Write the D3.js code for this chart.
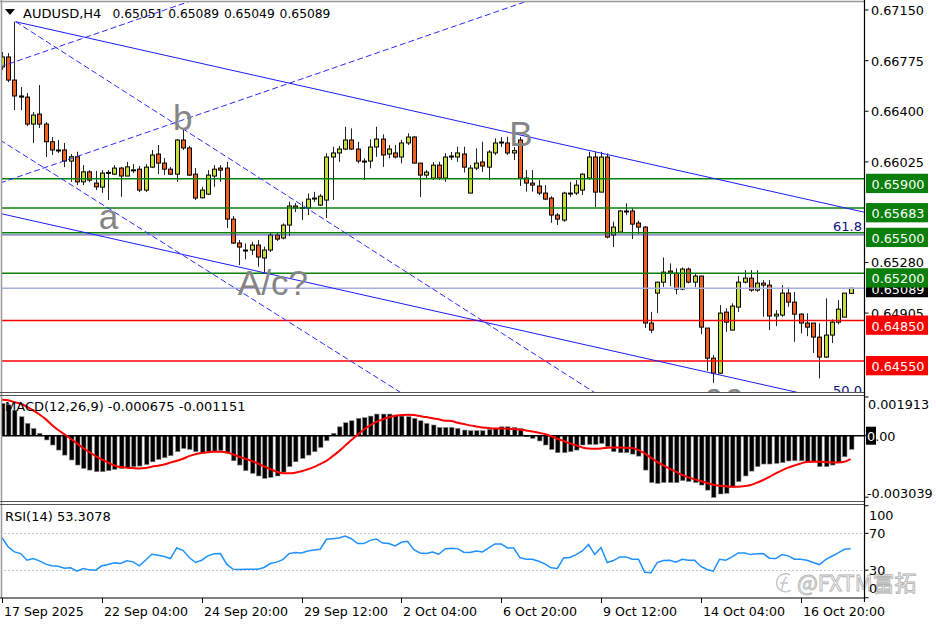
<!DOCTYPE html>
<html><head><meta charset="utf-8">
<script src="https://cdn.jsdelivr.net/npm/d3@7"></script>
<style>body{margin:0;background:#fff;} svg{display:block;}</style>
</head><body>
<svg id="c" width="936" height="624"></svg>
<script>
// ---------- DATA ----------
const symbolTitle = "AUDUSD,H4";
const titleValues = ["0.65051", "0.65089", "0.65049", "0.65089"];
const open = [0.66728,0.66802,0.66631,0.66513,0.66505,0.66305,0.66379,0.66305,0.66174,0.66113,
0.66113,0.66031,0.66063,0.65877,0.65951,0.65868,0.65838,0.65944,0.65934,0.65979,
0.65920,0.65964,0.65971,0.65816,0.65986,0.66083,0.66016,0.65971,0.65934,0.66187,
0.66128,0.65934,0.65759,0.65786,0.65920,0.65979,0.65979,0.65601,0.65424,0.65372,
0.65372,0.65409,0.65313,0.65372,0.65483,0.65461,0.65557,0.65698,0.65683,0.65683,
0.65757,0.65705,0.65742,0.66061,0.66091,0.66120,0.66187,0.66120,0.66031,0.66031,
0.66135,0.66194,0.66083,0.66091,0.66061,0.66165,0.66209,0.66016,0.65927,0.65905,
0.66001,0.65905,0.66061,0.66061,0.66083,0.65794,0.65979,0.66024,0.65986,0.66091,
0.66165,0.66165,0.66091,0.66187,0.65905,0.65868,0.65846,0.65794,0.65757,0.65631,
0.65594,0.65794,0.65794,0.65816,0.65905,0.66061,0.65801,0.66061,0.65483,0.65505,
0.65661,0.65661,0.65572,0.65542,0.64831,0.65053,0.65134,0.65216,0.65201,0.65083,
0.65231,0.65134,0.65179,0.64794,0.64571,0.64460,0.64912,0.64779,0.64949,0.65134,
0.65164,0.65075,0.65127,0.65112,0.64883,0.64890,0.65053,0.64986,0.64897,0.64831,
0.64831,0.64727,0.64579,0.64742,0.64838,0.64875,0.65051];
const high = [0.66839,0.66831,0.67063,0.66579,0.66535,0.66394,0.66594,0.66320,0.66209,0.66187,
0.66165,0.66083,0.66100,0.66001,0.65964,0.65959,0.65964,0.65964,0.66001,0.65988,
0.66025,0.66008,0.65994,0.66008,0.66113,0.66150,0.66053,0.65988,0.66194,0.66268,
0.66143,0.65979,0.65840,0.65964,0.66001,0.66001,0.66025,0.65623,0.65446,0.65421,
0.65433,0.65446,0.65397,0.65505,0.65505,0.65569,0.65730,0.65720,0.65730,0.65791,
0.65803,0.65786,0.66089,0.66137,0.66143,0.66285,0.66273,0.66174,0.66051,0.66192,
0.66285,0.66229,0.66150,0.66150,0.66187,0.66237,0.66216,0.66016,0.65964,0.66024,
0.66026,0.66089,0.66098,0.66137,0.66137,0.66001,0.66125,0.66174,0.66113,0.66199,
0.66209,0.66211,0.66135,0.66209,0.65964,0.65964,0.65890,0.65853,0.65771,0.65646,
0.65804,0.65877,0.65890,0.65940,0.66100,0.66100,0.66100,0.66088,0.65582,0.65668,
0.65718,0.65681,0.65589,0.65549,0.64914,0.65137,0.65317,0.65273,0.65236,0.65243,
0.65243,0.65199,0.65179,0.64794,0.64594,0.64964,0.64940,0.64977,0.65179,0.65223,
0.65223,0.65223,0.65149,0.65149,0.64927,0.65112,0.65095,0.65062,0.64903,0.64903,
0.64831,0.64829,0.65014,0.64858,0.65001,0.65053,0.65089];
const low = [0.66705,0.66616,0.66409,0.66409,0.66290,0.66165,0.66276,0.66061,0.66076,0.66091,
0.65986,0.65877,0.65853,0.65853,0.65875,0.65816,0.65796,0.65742,0.65927,0.65766,
0.65920,0.65942,0.65801,0.65801,0.65979,0.65934,0.65927,0.65927,0.65877,0.66113,
0.65920,0.65742,0.65755,0.65779,0.65840,0.65877,0.65535,0.65416,0.65261,0.65303,
0.65335,0.65248,0.65204,0.65357,0.65438,0.65451,0.65475,0.65653,0.65594,0.65631,
0.65729,0.65698,0.65609,0.65742,0.66025,0.66113,0.66113,0.66014,0.65890,0.65977,
0.66063,0.65988,0.66051,0.66051,0.66014,0.66150,0.66014,0.65764,0.65903,0.65890,
0.65890,0.65877,0.66038,0.66025,0.65946,0.65792,0.65964,0.65951,0.65890,0.66076,
0.66135,0.66076,0.66038,0.65846,0.65804,0.65804,0.65779,0.65742,0.65574,0.65557,
0.65581,0.65766,0.65779,0.65779,0.65890,0.65690,0.65801,0.65458,0.65394,0.65505,
0.65631,0.65453,0.65490,0.64794,0.64757,0.64905,0.65099,0.65105,0.65044,0.65075,
0.65125,0.65097,0.64749,0.64477,0.64388,0.64458,0.64766,0.64779,0.64914,0.65125,
0.65062,0.65062,0.64877,0.64779,0.64808,0.64877,0.64951,0.64692,0.64754,0.64734,
0.64610,0.64421,0.64572,0.64683,0.64821,0.64875,0.65049];
const close = [0.66802,0.66631,0.66513,0.66505,0.66305,0.66372,0.66305,0.66174,0.66113,0.66109,
0.66031,0.66063,0.65877,0.65951,0.65890,0.65840,0.65942,0.65947,0.65979,0.65920,
0.65988,0.65966,0.65816,0.65986,0.66076,0.66016,0.65971,0.65934,0.66187,0.66128,
0.65927,0.65757,0.65816,0.65927,0.65971,0.65964,0.65601,0.65424,0.65394,0.65370,
0.65409,0.65320,0.65372,0.65483,0.65453,0.65557,0.65698,0.65683,0.65687,0.65749,
0.65755,0.65771,0.66061,0.66091,0.66120,0.66187,0.66120,0.66031,0.66029,0.66135,
0.66194,0.66076,0.66120,0.66061,0.66165,0.66209,0.66016,0.65927,0.65949,0.66001,
0.65905,0.66061,0.66068,0.66091,0.65986,0.65979,0.66016,0.65994,0.66098,0.66165,
0.66172,0.66091,0.66108,0.65905,0.65868,0.65853,0.65794,0.65749,0.65631,0.65601,
0.65794,0.65792,0.65853,0.65934,0.66061,0.65801,0.66061,0.65468,0.65542,0.65661,
0.65659,0.65564,0.65542,0.64831,0.64779,0.65134,0.65208,0.65201,0.65083,0.65231,
0.65134,0.65179,0.64801,0.64571,0.64460,0.64905,0.64838,0.64957,0.65134,0.65164,
0.65075,0.65127,0.65112,0.64883,0.64897,0.65053,0.64986,0.64897,0.64831,0.64801,
0.64727,0.64579,0.64742,0.64838,0.64934,0.65053,0.65089];

const macdMain = [0.00160,0.00152,0.00124,0.00094,0.00061,0.00036,0.00012,-0.00021,-0.00046,-0.00071,
-0.00096,-0.00120,-0.00145,-0.00162,-0.00170,-0.00178,-0.00178,-0.00173,-0.00166,-0.00163,
-0.00157,-0.00153,-0.00150,-0.00143,-0.00129,-0.00117,-0.00109,-0.00099,-0.00079,-0.00063,
-0.00068,-0.00079,-0.00082,-0.00079,-0.00076,-0.00074,-0.00087,-0.00124,-0.00145,-0.00173,
-0.00186,-0.00199,-0.00211,-0.00206,-0.00199,-0.00180,-0.00153,-0.00129,-0.00112,-0.00096,
-0.00079,-0.00058,-0.00025,0.00012,0.00044,0.00064,0.00074,0.00086,0.00089,0.00097,
0.00107,0.00107,0.00107,0.00102,0.00097,0.00094,0.00086,0.00074,0.00061,0.00053,
0.00041,0.00041,0.00041,0.00036,0.00028,0.00025,0.00025,0.00025,0.00031,0.00036,
0.00044,0.00044,0.00041,0.00035,-0.00005,-0.00013,-0.00026,-0.00046,-0.00068,-0.00084,
-0.00084,-0.00079,-0.00071,-0.00046,-0.00043,-0.00043,-0.00038,-0.00054,-0.00079,-0.00084,
-0.00084,-0.00091,-0.00101,-0.00170,-0.00232,-0.00236,-0.00232,-0.00232,-0.00232,-0.00222,
-0.00227,-0.00232,-0.00244,-0.00269,-0.00305,-0.00288,-0.00285,-0.00255,-0.00227,-0.00199,
-0.00175,-0.00153,-0.00140,-0.00140,-0.00137,-0.00133,-0.00125,-0.00124,-0.00124,-0.00129,
-0.00129,-0.00153,-0.00153,-0.00145,-0.00133,-0.00104,-0.000675];
const macdSignal = [0.00178,0.00175,0.00166,0.00158,0.00143,0.00125,0.00105,0.00082,0.00053,0.00028,
0.00007,-0.00015,-0.00038,-0.00061,-0.00081,-0.00101,-0.00117,-0.00133,-0.00147,-0.00155,
-0.00158,-0.00160,-0.00162,-0.00160,-0.00153,-0.00148,-0.00142,-0.00133,-0.00124,-0.00114,
-0.00101,-0.00092,-0.00086,-0.00082,-0.00079,-0.00079,-0.00082,-0.00092,-0.00104,-0.00114,
-0.00125,-0.00137,-0.00152,-0.00165,-0.00178,-0.00185,-0.00186,-0.00183,-0.00176,-0.00166,
-0.00155,-0.00140,-0.00124,-0.00101,-0.00077,-0.00049,-0.00021,0.00005,0.00031,0.00051,
0.00068,0.00081,0.00091,0.00099,0.00102,0.00104,0.00102,0.00097,0.00092,0.00086,
0.00081,0.00074,0.00073,0.00064,0.00058,0.00051,0.00046,0.00041,0.00038,0.00036,
0.00036,0.00035,0.00033,0.00031,0.00026,0.00021,0.00015,0.00008,-0.00002,-0.00015,
-0.00026,-0.00038,-0.00048,-0.00058,-0.00063,-0.00064,-0.00063,-0.00059,-0.00058,-0.00058,
-0.00059,-0.00061,-0.00071,-0.00087,-0.00109,-0.00129,-0.00147,-0.00163,-0.00178,-0.00194,
-0.00206,-0.00216,-0.00224,-0.00234,-0.00242,-0.00247,-0.00250,-0.00252,-0.00252,-0.00249,
-0.00244,-0.00232,-0.00219,-0.00203,-0.00186,-0.00171,-0.00158,-0.00147,-0.00137,-0.00130,
-0.00129,-0.00129,-0.00130,-0.00132,-0.00132,-0.00129,-0.001151];
const rsi = [65.3,55.2,49.8,48.0,40.8,42.6,40.1,36.5,34.7,34.3,
32.2,32.5,28.9,31.8,30.3,30.0,34.7,36.1,37.9,37.2,
40.1,39.0,34.7,40.8,47.3,46.2,44.8,42.6,54.1,51.6,
43.7,38.3,40.8,45.5,47.7,48.0,36.5,31.1,30.7,31.1,
31.1,31.1,32.9,37.2,38.7,41.5,48.0,49.1,48.7,50.9,
52.0,52.7,63.5,64.2,65.0,67.1,64.2,58.9,58.9,62.4,
63.9,59.5,58.9,56.3,60.3,61.4,52.3,48.7,48.0,49.8,
47.3,53.1,53.8,53.4,49.5,49.1,50.9,49.8,54.1,58.5,
58.5,54.1,54.1,43.7,41.9,41.9,39.7,36.8,32.5,31.8,
43.3,43.7,46.9,50.9,57.8,46.9,54.5,38.3,40.4,44.4,
44.4,41.9,41.9,27.8,27.1,38.3,40.4,40.8,38.7,41.9,
40.8,40.8,34.0,30.7,28.9,41.9,40.8,44.4,48.7,48.7,
46.9,47.7,48.0,43.0,42.6,46.9,45.5,41.9,41.9,40.8,
38.3,36.1,41.5,45.1,48.7,52.7,53.3078];

const priceTicks = [0.67150, 0.66775, 0.66400, 0.66025, 0.65280, 0.64905];
const timeTickBars = [0, 16, 32, 48, 64, 80, 96, 112, 128];
const timeTickLabels = ["17 Sep 2025","22 Sep 04:00","24 Sep 20:00","29 Sep 12:00","2 Oct 04:00","6 Oct 20:00","9 Oct 12:00","14 Oct 04:00","16 Oct 20:00"];
const greenLevels = [0.65900, 0.65683, 0.65500, 0.65200];
const redLevels = [0.64850, 0.64550];
const bidPrice = 0.65089;
const fibLevels = [0.65484];
const fibLabels = ["61.8", "50.0"];
// trend lines: [bar1, price1, bar2, price2]
const solidTrends = [[2.19, 0.67063, 138.5, 0.65649], [-0.32, 0.65643, 138.5, 0.64203]];
const dashedTrends = [[-0.32, 0.66728, 32, 0.67245], [-0.32, 0.65868, 86, 0.67245],
                      [2.19, 0.67063, 99, 0.64197], [-0.32, 0.66187, 67, 0.64226]];
const waveLabels = ["b", "a", "A/c?", "B", "cc"];
const waveAnchors = [[27.4, 0.66261], [15.5, 0.65528], [37.8, 0.65040], [81.3, 0.66142], [112.6, 0.64201]];
const macdTitle = "MACD(12,26,9) -0.000675 -0.001151";
const macdTicks = ["0.001913", "0.00", "-0.003039"];
const macdTickValues = [0.001913, 0, -0.003039];
const rsiTitle = "RSI(14) 53.3078";
const rsiTicks = [100, 70, 30, 0];
const rsiLevels = [70, 30];

// ---------- LAYOUT ----------
const svg = d3.select("#c");
const FONT = "'DejaVu Sans', sans-serif";
const AXR = 864.5;
const x = d3.scaleLinear().domain([0, 136]).range([2, 850.6]);
const y = d3.scaleLinear().domain([0.6455, 0.6715]).range([361, 10]);
const ym = d3.scaleLinear().domain([-0.003039, 0.001913]).range([497.2, 397]);
const yr = d3.scaleLinear().domain([0, 100]).range([597.75, 505.75]);
const panels = {main:[2, 392.5], macd:[395.5, 501.5], rsi:[504.5, 598]};

svg.append("rect").attr("width",936).attr("height",624).attr("fill","#fff");
const defs = svg.append("defs");
Object.entries(panels).forEach(([k,[t,b]])=>{
  defs.append("clipPath").attr("id","clip-"+k).append("rect")
    .attr("x",2).attr("y",t).attr("width",AXR-2).attr("height",b-t);
});

// ---------- MAIN PANEL ----------
const gMain = svg.append("g").attr("clip-path","url(#clip-main)");
const bars = d3.range(open.length).map(i=>({i,o:open[i],h:high[i],l:low[i],c:close[i]}));
const cx = i => Math.round(x(i));
gMain.selectAll("line.wick").data(bars).join("line").attr("class","wick")
  .attr("x1",d=>cx(d.i)+0.5).attr("x2",d=>cx(d.i)+0.5)
  .attr("y1",d=>y(d.h)).attr("y2",d=>y(d.l))
  .attr("stroke","#222").attr("stroke-width",1);
gMain.selectAll("rect.body").data(bars).join("rect").attr("class","body")
  .attr("x",d=>cx(d.i)-1.5).attr("width",4)
  .attr("y",d=>Math.min(y(d.o),y(d.c)))
  .attr("height",d=>Math.max(1,Math.abs(y(d.o)-y(d.c))))
  .attr("fill",d=>d.c>=d.o?"#c8dc3c":"#f2601e")
  .attr("stroke","#000").attr("stroke-width",1);

// horizontal levels
gMain.selectAll("line.fib").data(fibLevels).join("line")
  .attr("x1",0).attr("x2",AXR).attr("y1",d=>y(d)).attr("y2",d=>y(d))
  .attr("stroke","#4848a8").attr("stroke-width",1);
gMain.append("line").attr("x1",0).attr("x2",AXR).attr("y1",y(bidPrice)).attr("y2",y(bidPrice))
  .attr("stroke","#a8aee0").attr("stroke-width",1.5);
gMain.selectAll("line.gl").data(greenLevels).join("line")
  .attr("x1",0).attr("x2",AXR).attr("y1",d=>y(d)).attr("y2",d=>y(d))
  .attr("stroke","#0a800a").attr("stroke-width",1.6);
gMain.selectAll("line.rl").data(redLevels).join("line")
  .attr("x1",0).attr("x2",AXR).attr("y1",d=>y(d)).attr("y2",d=>y(d))
  .attr("stroke","#ff0000").attr("stroke-width",1.6);

// trend lines
gMain.selectAll("line.st").data(solidTrends).join("line")
  .attr("x1",d=>x(d[0])).attr("y1",d=>y(d[1])).attr("x2",d=>x(d[2])).attr("y2",d=>y(d[3]))
  .attr("stroke","#1c1cff").attr("stroke-width",1);
gMain.selectAll("line.dt").data(dashedTrends).join("line")
  .attr("x1",d=>x(d[0])).attr("y1",d=>y(d[1])).attr("x2",d=>x(d[2])).attr("y2",d=>y(d[3]))
  .attr("stroke","#2a2aff").attr("stroke-width",1).attr("stroke-dasharray","6,3");

// fib texts
gMain.append("text").attr("x",862).attr("y",y(fibLevels[0])-3.5).attr("text-anchor","end")
  .attr("font-family",FONT).attr("font-size",13).attr("fill","#101080").text(fibLabels[0]);
gMain.append("text").attr("x",862).attr("y",394.5).attr("text-anchor","end")
  .attr("font-family",FONT).attr("font-size",13).attr("fill","#101080").text(fibLabels[1]);

// wave labels
gMain.selectAll("text.wave").data(waveLabels).join("text")
  .attr("x",(d,i)=>x(waveAnchors[i][0])).attr("y",(d,i)=>y(waveAnchors[i][1]))
  .attr("font-family","'Liberation Sans', Arial, sans-serif").attr("font-size",35)
  .attr("letter-spacing",(d,i)=>i===4?3:0)
  .attr("fill","#858585").text(d=>d);

// title
svg.append("path").attr("d","M5,9 L15,9 L10,15 Z").attr("fill","#000");
svg.append("text").attr("x",23).attr("y",18).attr("font-family",FONT).attr("font-size",13).text(symbolTitle);
svg.selectAll("text.tv").data(titleValues).join("text")
  .attr("x",(d,i)=>112.5+i*55.7).attr("y",18).attr("font-family",FONT).attr("font-size",12.3).text(d=>d);

// ---------- MACD PANEL ----------
const gM = svg.append("g").attr("clip-path","url(#clip-macd)");
gM.selectAll("rect.h").data(macdMain).join("rect")
  .attr("x",(d,i)=>cx(i)-1.5).attr("width",4.5)
  .attr("y",d=>Math.min(ym(d),ym(0))).attr("height",d=>Math.abs(ym(d)-ym(0)))
  .attr("fill","#000").attr("stroke","#8a8a8a").attr("stroke-width",0.6);
gM.append("line").attr("x1",0).attr("x2",AXR).attr("y1",ym(0)).attr("y2",ym(0))
  .attr("stroke","#000").attr("stroke-width",1.6);
gM.append("path").datum(macdSignal)
  .attr("d",d3.line().x((d,i)=>x(i)).y(d=>ym(d)).curve(d3.curveMonotoneX))
  .attr("fill","none").attr("stroke","#ff0000").attr("stroke-width",2);
svg.append("text").attr("x",5).attr("y",410.5).attr("font-family",FONT).attr("font-size",13).text(macdTitle);

// ---------- RSI PANEL ----------
const gR = svg.append("g").attr("clip-path","url(#clip-rsi)");
gR.selectAll("line.lv").data(rsiLevels).join("line")
  .attr("x1",0).attr("x2",AXR).attr("y1",d=>Math.round(yr(d))+0.5).attr("y2",d=>Math.round(yr(d))+0.5)
  .attr("stroke","#c4c4c4").attr("stroke-width",1).attr("stroke-dasharray","2,2");
gR.append("path").datum(rsi)
  .attr("d",d3.line().x((d,i)=>x(i)).y(d=>yr(d)))
  .attr("fill","none").attr("stroke","#1e90ff").attr("stroke-width",1.5);
svg.append("text").attr("x",5).attr("y",521).attr("font-family",FONT).attr("font-size",13).text(rsiTitle);

// watermark
const wm = svg.append("g");
wm.append("path").attr("d","M790,575 A9,9 0 1 0 791,590").attr("fill","none").attr("stroke","#c4c4c4").attr("stroke-width",1.4);
wm.append("path").attr("d","M787,577 C782,580 784,586 781,591 M780,583 L788,583").attr("fill","none").attr("stroke","#c4c4c4").attr("stroke-width",1.4);
wm.append("text").attr("x",797).attr("y",591).attr("font-family","'Noto Sans CJK SC', sans-serif")
  .attr("font-size",22).attr("fill","#ffffff").attr("stroke","#b4b4b4").attr("stroke-width",0.9).text("@FXTM富拓");

// ---------- FRAMES ----------
const fr = svg.append("g").attr("fill","none");
fr.append("line").attr("x1",1.5).attr("x2",1.5).attr("y1",0).attr("y2",598).attr("stroke","#999").attr("stroke-width",1.5);
fr.append("line").attr("x1",0).attr("x2",AXR).attr("y1",1.5).attr("y2",1.5).attr("stroke","#999").attr("stroke-width",1.5);
[392.5, 395.5, 501.5, 504.5].forEach(v=>{
  fr.append("line").attr("x1",0).attr("x2",AXR).attr("y1",v).attr("y2",v).attr("stroke","#555").attr("stroke-width",1);
});
fr.append("line").attr("x1",0).attr("x2",AXR).attr("y1",598).attr("y2",598).attr("stroke","#000").attr("stroke-width",1.2);
fr.append("line").attr("x1",AXR).attr("x2",AXR).attr("y1",0).attr("y2",602).attr("stroke","#000").attr("stroke-width",1.2);

// ---------- X AXIS ----------
const xa = svg.append("g");
xa.selectAll("line").data(timeTickBars).join("line")
  .attr("x1",d=>cx(d)+0.5).attr("x2",d=>cx(d)+0.5).attr("y1",598).attr("y2",603)
  .attr("stroke","#000");
xa.selectAll("text").data(timeTickLabels).join("text")
  .attr("x",(d,i)=>cx(timeTickBars[i])+2).attr("y",615.5)
  .attr("font-family",FONT).attr("font-size",12.6).text(d=>d);

// ---------- RIGHT AXIS ----------
const ya = svg.append("g").attr("font-family",FONT).attr("font-size",12.8);
ya.selectAll("line.pt").data(priceTicks).join("line")
  .attr("x1",AXR).attr("x2",AXR+4).attr("y1",d=>y(d)).attr("y2",d=>y(d)).attr("stroke","#000");
ya.selectAll("text.pt").data(priceTicks).join("text")
  .attr("x",871).attr("y",d=>y(d)+5).text(d=>d.toFixed(5));
// MACD axis
ya.selectAll("line.mt").data(macdTickValues).join("line")
  .attr("x1",AXR).attr("x2",AXR+4).attr("y1",d=>ym(d)).attr("y2",d=>ym(d)).attr("stroke","#000");
ya.append("text").attr("x",868).attr("y",409).text(macdTicks[0]);
ya.append("text").attr("x",867).attr("y",498).text(macdTicks[2]);
ya.append("rect").attr("x",866).attr("y",ym(0)-9).attr("width",10).attr("height",18).attr("fill","#000");
ya.append("text").attr("x",867).attr("y",ym(0)+5.5).text(macdTicks[1]);
defs.append("clipPath").attr("id","clip-zero").append("rect").attr("x",866).attr("y",ym(0)-9).attr("width",10).attr("height",18);
ya.append("text").attr("x",867).attr("y",ym(0)+5.5).attr("fill","#fff").attr("clip-path","url(#clip-zero)").text(macdTicks[1]);
// RSI axis
ya.selectAll("line.rt").data(rsiTicks).join("line")
  .attr("x1",AXR).attr("x2",AXR+4).attr("y1",d=>yr(d)).attr("y2",d=>yr(d)).attr("stroke","#000");
ya.selectAll("text.rt").data(rsiTicks).join("text")
  .attr("x",869).attr("y",d=> d===100? yr(d)+14 : d===0 ? yr(d)-4.5 : yr(d)+5).text(d=>d);

// current price box
ya.append("rect").attr("x",866).attr("y",y(bidPrice)-9).attr("width",62).attr("height",18).attr("fill","#000");
ya.append("text").attr("x",871.5).attr("y",y(bidPrice)+5.5).attr("fill","#fff").text(bidPrice.toFixed(5));
// level boxes
const levelBoxes = greenLevels.map(v=>({v,c:"#0a7f0a"})).concat(redLevels.map(v=>({v,c:"#ff0000"})));
ya.selectAll("rect.lb").data(levelBoxes).join("rect")
  .attr("x",866).attr("y",d=>y(d.v)-5).attr("width",62).attr("height",19.3).attr("fill",d=>d.c);
ya.selectAll("text.lb").data(levelBoxes).join("text")
  .attr("x",871.5).attr("y",d=>y(d.v)+10).attr("fill","#fff").text(d=>d.v.toFixed(5));
</script>
</body></html>
